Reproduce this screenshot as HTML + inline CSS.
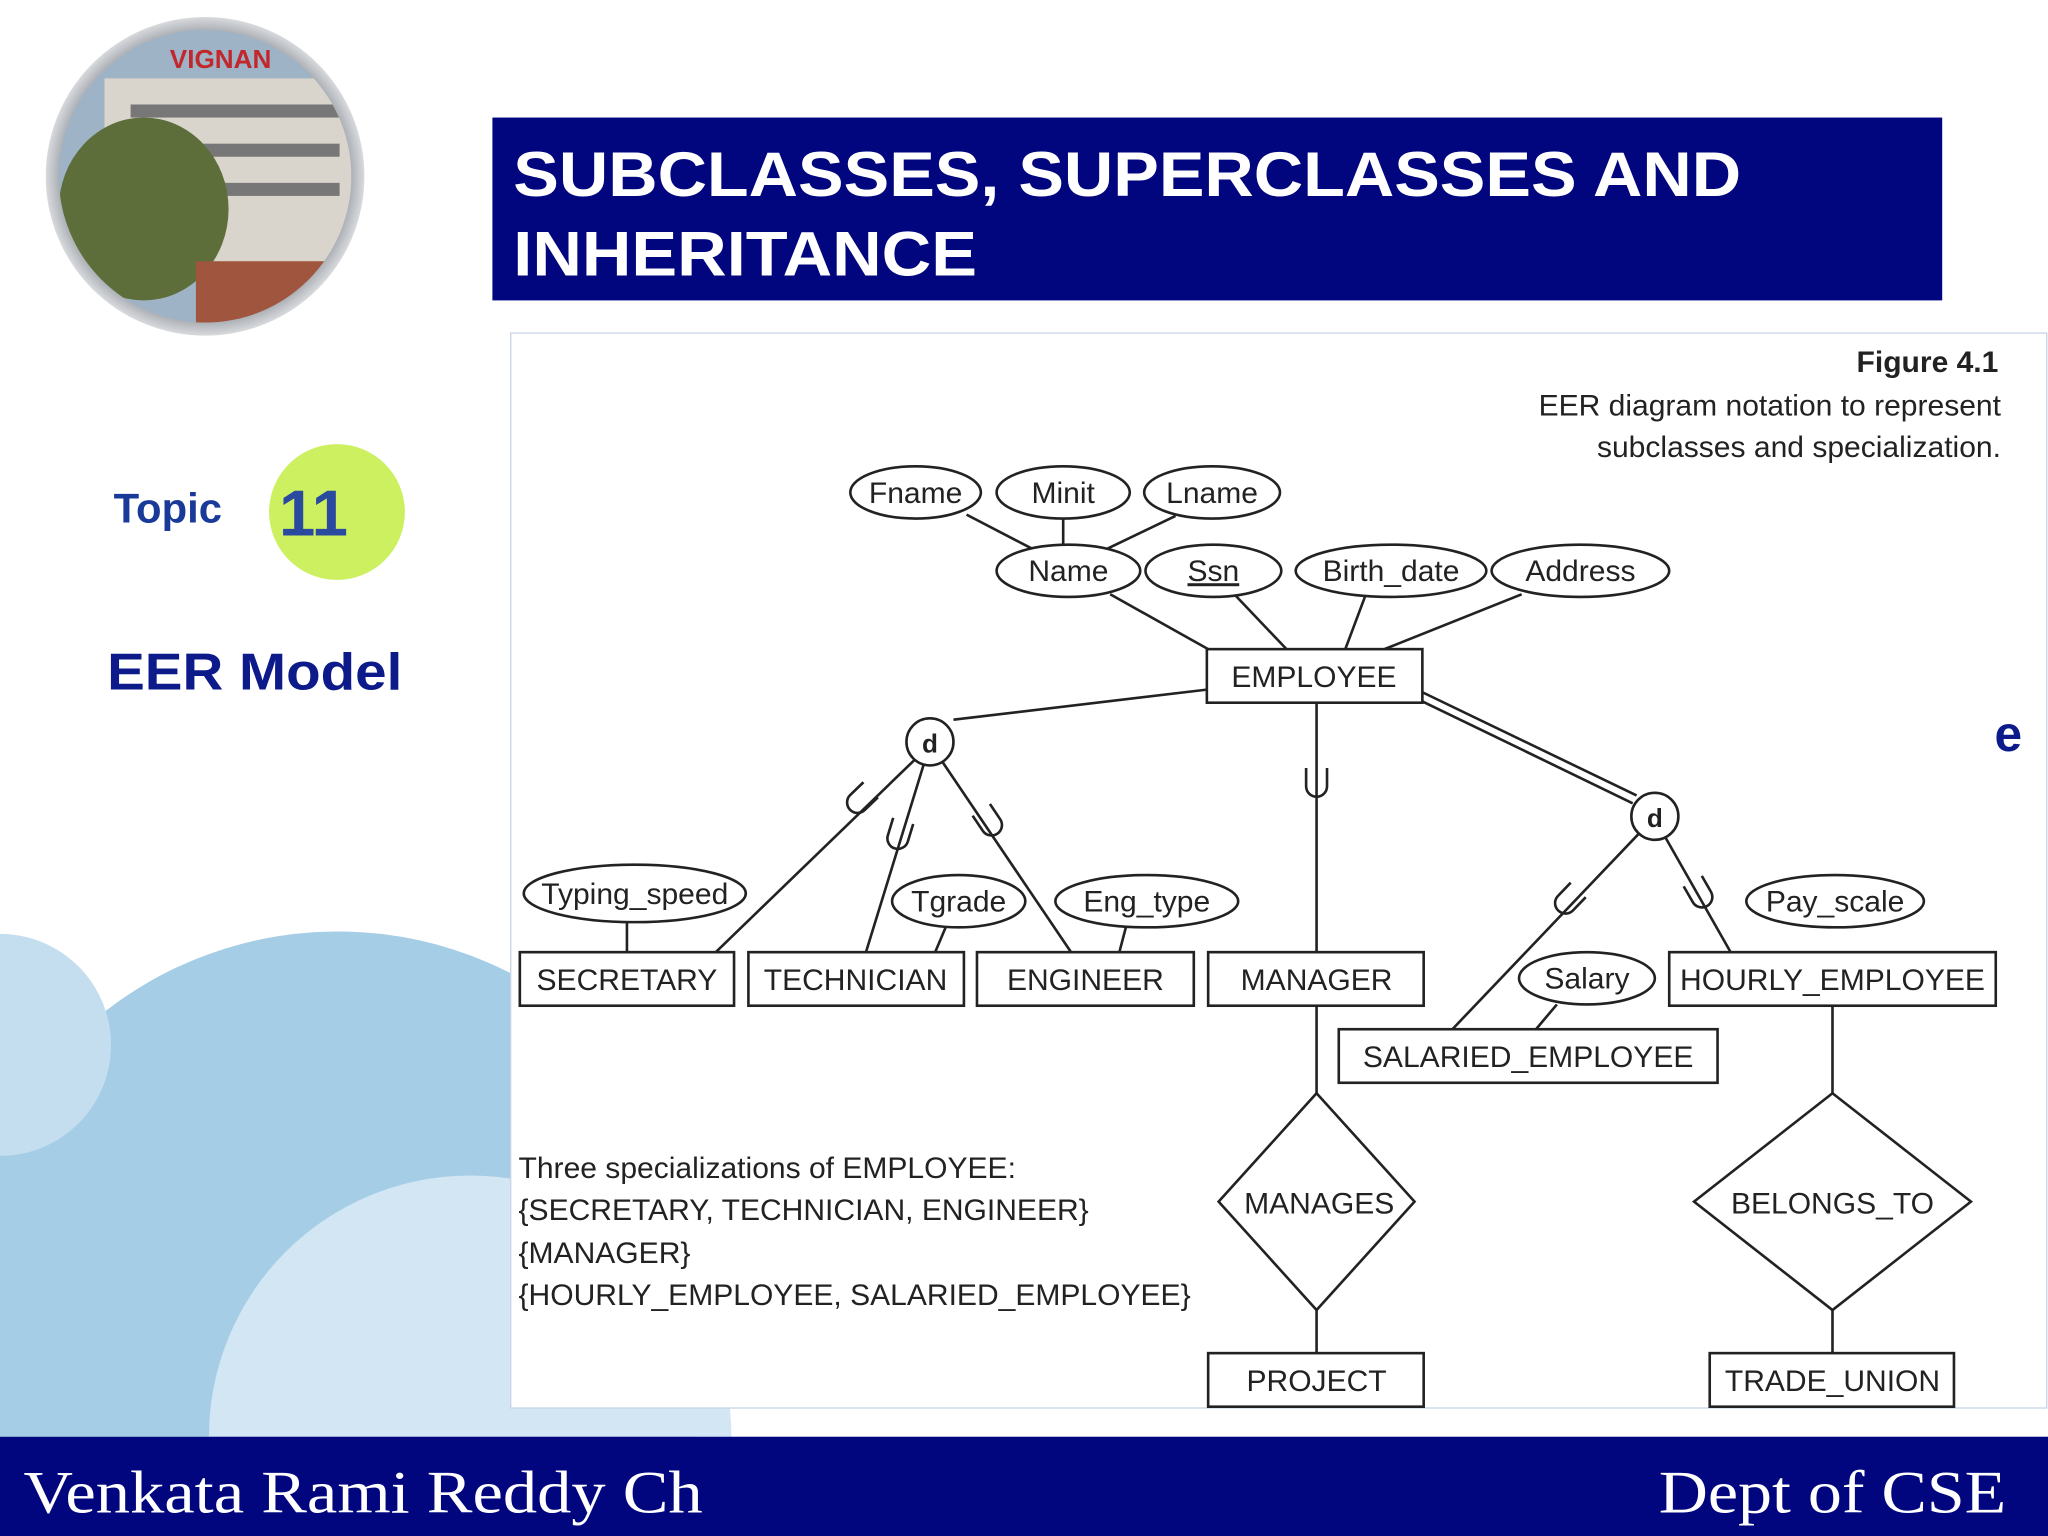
<!DOCTYPE html>
<html><head><meta charset="utf-8"><style>
html,body{margin:0;padding:0;background:#fff;width:2048px;height:1536px;overflow:hidden;}
svg{display:block;overflow:hidden;}
</style></head><body>
<svg width="2048" height="1536" viewBox="0 0 1568 1176" xmlns="http://www.w3.org/2000/svg" font-family="Liberation Sans, sans-serif">
<defs>
<radialGradient id="lg" cx="0.5" cy="0.5" r="0.5">
<stop offset="0.85" stop-color="#8a8f96"/><stop offset="1" stop-color="#d8dadd"/>
</radialGradient>
<clipPath id="lc"><circle cx="157" cy="135" r="112"/></clipPath>
<g id="U"><path d="M -8 -12 L -8 2 A 8 8 0 0 0 8 2 L 8 -12" fill="none" stroke="#222" stroke-width="2"/></g>
</defs>
<rect width="1568" height="1176" fill="#fff"/>
<path d="M0,1100 L0,872 A290,290 0 0 1 532,1100 Z" fill="#a6cde6"/>
<path d="M0,715 A85,85 0 0 1 0,885 Z" fill="#c4def0"/>
<path d="M160,1100 A200,200 0 0 1 560,1100 Z" fill="#d2e6f3"/>
<circle cx="157" cy="135" r="122" fill="url(#lg)"/>
<g clip-path="url(#lc)">
<rect x="45" y="23" width="224" height="224" fill="#9fb3c7"/>
<rect x="80" y="60" width="189" height="150" fill="#d9d4cc"/>
<rect x="100" y="80" width="160" height="10" fill="#777"/>
<rect x="100" y="110" width="160" height="10" fill="#777"/>
<rect x="100" y="140" width="160" height="10" fill="#777"/>
<ellipse cx="110" cy="160" rx="65" ry="70" fill="#5d6e3a"/>
<rect x="150" y="200" width="119" height="47" fill="#a0553f"/>
<text x="130" y="52" font-size="20" font-weight="bold" fill="#c0282d">VIGNAN</text>
</g>
<rect x="377" y="90" width="1110" height="140" fill="#02067e"/>
<text x="393" y="150" font-size="48" font-weight="bold" fill="#fff" textLength="940" lengthAdjust="spacingAndGlyphs">SUBCLASSES, SUPERCLASSES AND</text>
<text x="393" y="211" font-size="48" font-weight="bold" fill="#fff" textLength="355" lengthAdjust="spacingAndGlyphs">INHERITANCE</text>
<text x="87" y="400" font-size="32" font-weight="bold" fill="#1a3a9a">Topic</text>
<circle cx="258" cy="392" r="52" fill="#ccf060"/>
<text x="240" y="410" font-size="50" font-weight="bold" fill="#2a4aa0" text-anchor="middle">11</text>
<text x="82" y="528" font-size="40" font-weight="bold" fill="#0c1a8a" textLength="226" lengthAdjust="spacingAndGlyphs">EER Model</text>
<rect x="391" y="255" width="1176" height="823" fill="#fff" stroke="#c8d4e6" stroke-width="1"/>
<text x="1527" y="575" font-size="38" font-weight="bold" fill="#0c1a8a">e</text>
<g font-family="Liberation Sans, sans-serif" fill="#222">
<text x="1530" y="285" font-size="23" font-weight="bold" text-anchor="end">Figure 4.1</text>
<text x="1532" y="318" font-size="23" text-anchor="end">EER diagram notation to represent</text>
<text x="1532" y="350" font-size="23" text-anchor="end">subclasses and specialization.</text>
</g>
<g stroke="#222" stroke-width="2" fill="none">
<line x1="740" y1="394" x2="790" y2="420"/>
<line x1="814" y1="397" x2="814" y2="418"/>
<line x1="900" y1="395" x2="848" y2="420"/>
<line x1="850" y1="455" x2="925" y2="497"/>
<line x1="945" y1="455" x2="985" y2="497"/>
<line x1="1045" y1="457" x2="1030" y2="497"/>
<line x1="1165" y1="455" x2="1060" y2="497"/>
<line x1="924" y1="528" x2="730" y2="551"/>
<line x1="700" y1="582" x2="548" y2="729"/>
<line x1="707" y1="586" x2="663" y2="729"/>
<line x1="722" y1="584" x2="820" y2="729"/>
<line x1="1008" y1="538" x2="1008" y2="729"/>
<line x1="1089" y1="530" x2="1253" y2="609"/>
<line x1="1089" y1="537" x2="1250" y2="615"/>
<line x1="1255" y1="638" x2="1112" y2="788"/>
<line x1="1275" y1="641" x2="1325" y2="729"/>
<line x1="480" y1="706" x2="480" y2="729"/>
<line x1="724" y1="710" x2="716" y2="729"/>
<line x1="862" y1="710" x2="857" y2="729"/>
<line x1="1192" y1="769" x2="1176" y2="788"/>
<line x1="1008" y1="770" x2="1008" y2="837"/>
<line x1="1008" y1="1003" x2="1008" y2="1036"/>
<line x1="1403" y1="770" x2="1403" y2="837"/>
<line x1="1403" y1="1003" x2="1403" y2="1036"/>
</g>
<use href="#U" transform="translate(658,613) rotate(46)"/>
<use href="#U" transform="translate(688,640) rotate(17)"/>
<use href="#U" transform="translate(758,630) rotate(-34)"/>
<use href="#U" transform="translate(1008,600)"/>
<use href="#U" transform="translate(1200,690) rotate(44)"/>
<use href="#U" transform="translate(1302,685) rotate(-30)"/>
<g stroke="#222" stroke-width="2" fill="#fff">
<ellipse cx="701" cy="377" rx="50" ry="20"/>
<ellipse cx="814" cy="377" rx="51" ry="20"/>
<ellipse cx="928" cy="377" rx="52" ry="20"/>
<ellipse cx="818" cy="437" rx="55" ry="20"/>
<ellipse cx="929" cy="437" rx="52" ry="20"/>
<ellipse cx="1065" cy="437" rx="73" ry="20"/>
<ellipse cx="1210" cy="437" rx="68" ry="20"/>
<ellipse cx="486" cy="684" rx="85" ry="22"/>
<ellipse cx="734" cy="690" rx="51" ry="20"/>
<ellipse cx="878" cy="690" rx="70" ry="20"/>
<ellipse cx="1405" cy="690" rx="68" ry="20"/>
<ellipse cx="1215" cy="749" rx="52" ry="20"/>
<rect x="924" y="497" width="165" height="41"/>
<rect x="398" y="729" width="164" height="41"/>
<rect x="573" y="729" width="165" height="41"/>
<rect x="748" y="729" width="166" height="41"/>
<rect x="925" y="729" width="165" height="41"/>
<rect x="1278" y="729" width="250" height="41"/>
<rect x="1025" y="788" width="290" height="41"/>
<rect x="925" y="1036" width="165" height="41"/>
<rect x="1309" y="1036" width="187" height="41"/>
<circle cx="712" cy="568" r="18"/>
<circle cx="1267" cy="625" r="18"/>
<polygon points="1008,837 1083,920 1008,1003 933,920"/>
<polygon points="1403,837 1509,920 1403,1003 1297,920"/>
</g>
<g font-size="23" fill="#222" text-anchor="middle">
<text x="701" y="385">Fname</text>
<text x="814" y="385">Minit</text>
<text x="928" y="385">Lname</text>
<text x="818" y="445">Name</text>
<text x="929" y="445" text-decoration="underline">Ssn</text>
<text x="1065" y="445">Birth_date</text>
<text x="1210" y="445">Address</text>
<text x="486" y="692">Typing_speed</text>
<text x="734" y="698">Tgrade</text>
<text x="878" y="698">Eng_type</text>
<text x="1405" y="698">Pay_scale</text>
<text x="1215" y="757">Salary</text>
<text x="1006" y="526">EMPLOYEE</text>
<text x="480" y="758">SECRETARY</text>
<text x="655" y="758">TECHNICIAN</text>
<text x="831" y="758">ENGINEER</text>
<text x="1008" y="758">MANAGER</text>
<text x="1403" y="758">HOURLY_EMPLOYEE</text>
<text x="1170" y="817">SALARIED_EMPLOYEE</text>
<text x="1008" y="1065">PROJECT</text>
<text x="1403" y="1065">TRADE_UNION</text>
<text x="1010" y="929">MANAGES</text>
<text x="1403" y="929">BELONGS_TO</text>
<text x="712" y="576" font-weight="bold" font-size="20">d</text>
<text x="1267" y="633" font-weight="bold" font-size="20">d</text>
</g>
<g font-size="23" fill="#222">
<text x="397" y="902">Three specializations of EMPLOYEE:</text>
<text x="397" y="934">{SECRETARY, TECHNICIAN, ENGINEER}</text>
<text x="397" y="967">{MANAGER}</text>
<text x="397" y="999">{HOURLY_EMPLOYEE, SALARIED_EMPLOYEE}</text>
</g>
<rect x="0" y="1100" width="1568" height="76" fill="#02067e"/>
<text x="18" y="1158" font-family="Liberation Serif, serif" font-size="46" fill="#fff" textLength="520" lengthAdjust="spacingAndGlyphs">Venkata Rami Reddy Ch</text>
<text x="1270" y="1158" font-family="Liberation Serif, serif" font-size="46" fill="#fff" textLength="266" lengthAdjust="spacingAndGlyphs">Dept of CSE</text>
</svg>
</body></html>
